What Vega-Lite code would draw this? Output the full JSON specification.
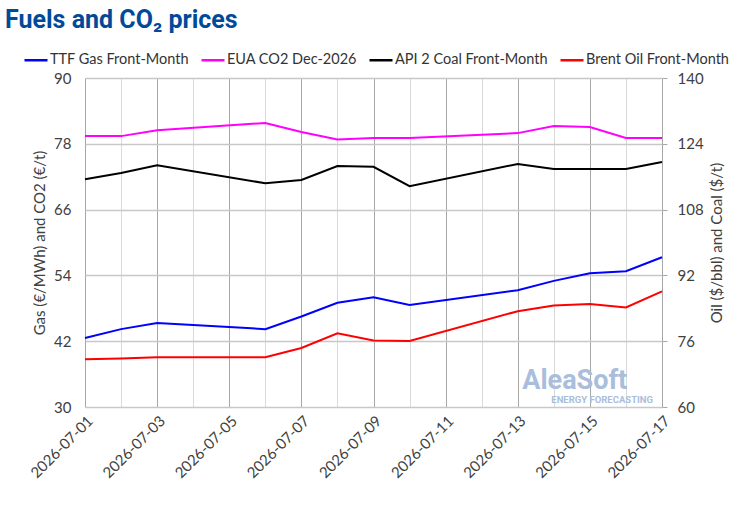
{
  "$schema": "https://vega.github.io/schema/vega-lite/v6.json",
  "width": 577,
  "height": 329,
  "autosize": {"type": "none"},
  "padding": {"left": 85, "top": 78, "right": 68, "bottom": 102},
  "background": "white",
  "title": {
    "text": "Fuels and CO₂ prices",
    "anchor": "start",
    "frame": "group",
    "dx": -80,
    "offset": 14,
    "font": "Roboto",
    "fontSize": 25,
    "fontWeight": "bold",
    "color": "#004a99"
  },
  "data": {
    "values": [
      {"date": "2026-07-01", "series": "TTF Gas Front-Month", "value": 42.6},
      {"date": "2026-07-02", "series": "TTF Gas Front-Month", "value": 44.2},
      {"date": "2026-07-03", "series": "TTF Gas Front-Month", "value": 45.3},
      {"date": "2026-07-06", "series": "TTF Gas Front-Month", "value": 44.2},
      {"date": "2026-07-07", "series": "TTF Gas Front-Month", "value": 46.5},
      {"date": "2026-07-08", "series": "TTF Gas Front-Month", "value": 49.0},
      {"date": "2026-07-09", "series": "TTF Gas Front-Month", "value": 50.0},
      {"date": "2026-07-10", "series": "TTF Gas Front-Month", "value": 48.6},
      {"date": "2026-07-13", "series": "TTF Gas Front-Month", "value": 51.3},
      {"date": "2026-07-14", "series": "TTF Gas Front-Month", "value": 53.0},
      {"date": "2026-07-15", "series": "TTF Gas Front-Month", "value": 54.4},
      {"date": "2026-07-16", "series": "TTF Gas Front-Month", "value": 54.75},
      {"date": "2026-07-17", "series": "TTF Gas Front-Month", "value": 57.3},
      {"date": "2026-07-01", "series": "EUA CO2 Dec-2026", "value": 79.4},
      {"date": "2026-07-02", "series": "EUA CO2 Dec-2026", "value": 79.4},
      {"date": "2026-07-03", "series": "EUA CO2 Dec-2026", "value": 80.45},
      {"date": "2026-07-06", "series": "EUA CO2 Dec-2026", "value": 81.8},
      {"date": "2026-07-07", "series": "EUA CO2 Dec-2026", "value": 80.15},
      {"date": "2026-07-08", "series": "EUA CO2 Dec-2026", "value": 78.8},
      {"date": "2026-07-09", "series": "EUA CO2 Dec-2026", "value": 79.05},
      {"date": "2026-07-10", "series": "EUA CO2 Dec-2026", "value": 79.05},
      {"date": "2026-07-13", "series": "EUA CO2 Dec-2026", "value": 79.95},
      {"date": "2026-07-14", "series": "EUA CO2 Dec-2026", "value": 81.25},
      {"date": "2026-07-15", "series": "EUA CO2 Dec-2026", "value": 81.05},
      {"date": "2026-07-16", "series": "EUA CO2 Dec-2026", "value": 79.05},
      {"date": "2026-07-17", "series": "EUA CO2 Dec-2026", "value": 79.05},
      {"date": "2026-07-01", "series": "API 2 Coal Front-Month", "value": 115.4},
      {"date": "2026-07-02", "series": "API 2 Coal Front-Month", "value": 116.9},
      {"date": "2026-07-03", "series": "API 2 Coal Front-Month", "value": 118.8},
      {"date": "2026-07-06", "series": "API 2 Coal Front-Month", "value": 114.4},
      {"date": "2026-07-07", "series": "API 2 Coal Front-Month", "value": 115.2},
      {"date": "2026-07-08", "series": "API 2 Coal Front-Month", "value": 118.6},
      {"date": "2026-07-09", "series": "API 2 Coal Front-Month", "value": 118.4},
      {"date": "2026-07-10", "series": "API 2 Coal Front-Month", "value": 113.7},
      {"date": "2026-07-13", "series": "API 2 Coal Front-Month", "value": 119.1},
      {"date": "2026-07-14", "series": "API 2 Coal Front-Month", "value": 117.9},
      {"date": "2026-07-15", "series": "API 2 Coal Front-Month", "value": 117.9},
      {"date": "2026-07-16", "series": "API 2 Coal Front-Month", "value": 117.9},
      {"date": "2026-07-17", "series": "API 2 Coal Front-Month", "value": 119.6},
      {"date": "2026-07-01", "series": "Brent Oil Front-Month", "value": 71.6},
      {"date": "2026-07-02", "series": "Brent Oil Front-Month", "value": 71.8},
      {"date": "2026-07-03", "series": "Brent Oil Front-Month", "value": 72.1},
      {"date": "2026-07-06", "series": "Brent Oil Front-Month", "value": 72.1},
      {"date": "2026-07-07", "series": "Brent Oil Front-Month", "value": 74.35},
      {"date": "2026-07-08", "series": "Brent Oil Front-Month", "value": 77.9},
      {"date": "2026-07-09", "series": "Brent Oil Front-Month", "value": 76.2},
      {"date": "2026-07-10", "series": "Brent Oil Front-Month", "value": 76.05},
      {"date": "2026-07-13", "series": "Brent Oil Front-Month", "value": 83.3},
      {"date": "2026-07-14", "series": "Brent Oil Front-Month", "value": 84.7},
      {"date": "2026-07-15", "series": "Brent Oil Front-Month", "value": 85.05},
      {"date": "2026-07-16", "series": "Brent Oil Front-Month", "value": 84.2},
      {"date": "2026-07-17", "series": "Brent Oil Front-Month", "value": 88.1}
    ]
  },
  "layer": [
    {
      "transform": [
        {"filter": {"field": "series", "oneOf": ["TTF Gas Front-Month", "EUA CO2 Dec-2026"]}}
      ],
      "layer": [
        {
          "mark": {"type": "line", "strokeWidth": 2},
          "encoding": {
            "x": {
              "field": "date",
              "type": "temporal",
              "scale": {
                "type": "utc",
                "nice": false,
                "domain": [
                  {"year": 2026, "month": 7, "date": 1, "utc": true},
                  {"year": 2026, "month": 7, "date": 17, "utc": true}
                ]
              },
              "axis": {
                "title": null,
                "tickCount": {"interval": "day", "step": 1},
                "labelExpr": "utcdate(datum.value) % 2 === 1 ? utcFormat(datum.value, '%Y-%m-%d') : ''",
                "labelAngle": -45,
                "labelOverlap": false,
                "labelFlush": false,
                "labelFontSize": 15,
                "labelPadding": 6,
                "ticks": false,
                "tickSize": 0,
                "domain": false,
                "gridColor": {
                  "condition": {"test": "utcdate(datum.value) % 2 === 1", "value": "#a6a6a6"},
                  "value": "#d9d9d9"
                }
              }
            },
            "y": {
              "field": "value",
              "type": "quantitative",
              "scale": {"domain": [30, 90], "nice": false, "zero": false},
              "axis": {
                "title": "Gas (€/MWh) and CO2 (€/t)",
                "values": [30, 36, 42, 48, 54, 60, 66, 72, 78, 84, 90],
                "labelExpr": "(datum.value - 30) % 12 === 0 ? datum.label : ''",
                "ticks": false,
                "tickSize": 0,
                "domain": false,
                "labelPadding": 14,
                "titlePadding": 6,
                "gridWidth": 1.5,
                "gridColor": {
                  "condition": {"test": "(datum.value - 30) % 12 === 0", "value": "#c8c8c8"},
                  "value": "#e4e4e4"
                }
              }
            },
            "color": {
              "field": "series",
              "type": "nominal",
              "scale": {
                "domain": ["TTF Gas Front-Month", "EUA CO2 Dec-2026", "API 2 Coal Front-Month", "Brent Oil Front-Month"],
                "range": ["#0000ff", "#ff00ff", "#000000", "#ff0000"]
              },
              "legend": {
                "orient": "none",
                "legendX": -62,
                "legendY": -31,
                "direction": "horizontal",
                "title": null,
                "symbolType": "stroke",
                "symbolSize": 529,
                "symbolStrokeWidth": 2.5,
                "labelFontSize": 14.5,
                "labelColor": "#333333",
                "labelOffset": 1,
                "columnPadding": 7
              }
            }
          }
        },
        {
          "data": {"values": [{}]},
          "mark": {"type": "text", "text": "AleaSoft", "font": "Roboto", "fontSize": 27, "fontWeight": "bold", "color": "#a9bddc", "align": "left", "baseline": "alphabetic"},
          "encoding": {
            "x": {"datum": {"year": 2026, "month": 7, "date": 13, "hours": 3, "utc": true}, "type": "temporal"},
            "y": {"datum": 33.35, "type": "quantitative"}
          }
        },
        {
          "data": {"values": [{}]},
          "mark": {"type": "text", "text": "ENERGY FORECASTING", "font": "Roboto", "fontSize": 9.5, "fontWeight": "bold", "color": "#a9bddc", "align": "right", "baseline": "alphabetic"},
          "encoding": {
            "x": {"datum": {"year": 2026, "month": 7, "date": 16, "hours": 18, "utc": true}, "type": "temporal"},
            "y": {"datum": 30.75, "type": "quantitative"}
          }
        }
      ]
    },
    {
      "transform": [
        {"filter": {"field": "series", "oneOf": ["API 2 Coal Front-Month", "Brent Oil Front-Month"]}}
      ],
      "mark": {"type": "line", "strokeWidth": 2},
      "encoding": {
        "x": {"field": "date", "type": "temporal"},
        "y": {
          "field": "value",
          "type": "quantitative",
          "scale": {"domain": [60, 140], "nice": false, "zero": false},
          "axis": {
            "orient": "right",
            "title": "Oil ($/bbl) and Coal ($/t)",
            "titleAngle": 270,
            "values": [60, 76, 92, 108, 124, 140],
            "grid": false,
            "domain": false,
            "ticks": true,
            "tickSize": 5,
            "tickColor": "#a6a6a6",
            "labelPadding": 10,
            "titlePadding": 21
          }
        },
        "color": {"field": "series", "type": "nominal"}
      }
    }
  ],
  "resolve": {"scale": {"y": "independent"}},
  "config": {
    "font": "Lato",
    "view": {"stroke": null},
    "axis": {
      "labelFont": "Lato",
      "titleFont": "Lato",
      "labelFontSize": 15,
      "titleFontSize": 15,
      "titleFontWeight": "normal",
      "labelColor": "#404040",
      "titleColor": "#404040"
    },
    "legend": {"labelFont": "Lato"}
  }
}
